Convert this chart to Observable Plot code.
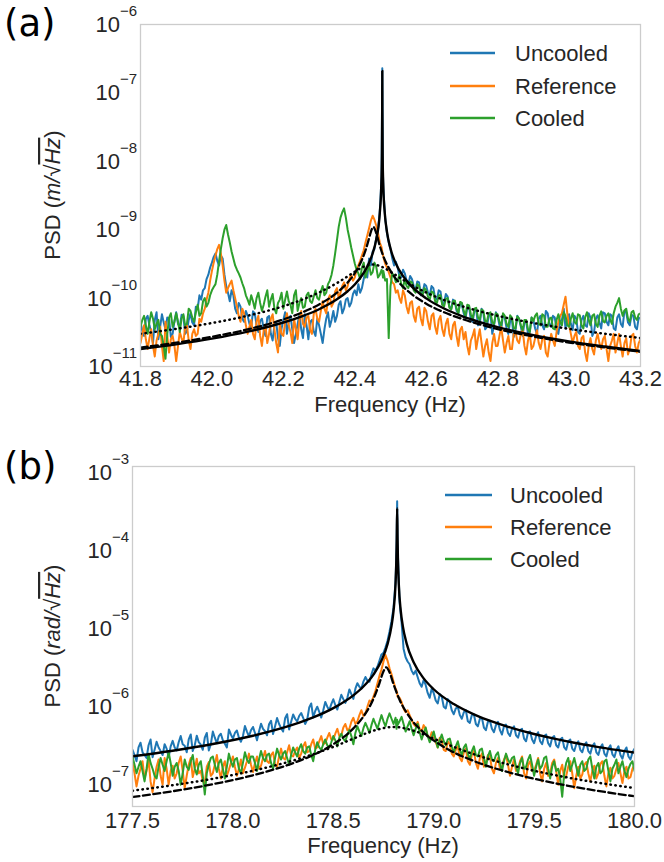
<!DOCTYPE html>
<html><head><meta charset="utf-8">
<script src="https://cdn.jsdelivr.net/npm/d3@7"></script>
<script src="https://cdn.jsdelivr.net/npm/@observablehq/plot@0.6"></script>
<style>
body{margin:0;background:#fff;}
#wrap{width:664px;}
#wrap svg{display:block;}
</style></head><body><div id="wrap"></div>
<script>
// ---------- shared ----------
const names = ["Uncooled", "Reference", "Cooled"];
const colors = ["#1f77b4", "#ff7f0e", "#2ca02c"];
const FONT = "'Liberation Sans', Arial, Helvetica, sans-serif";

// ---------- panel (a): values in pm/sqrt(Hz) (1e-12 m) ----------
const unitA = 1e-12;
const xTicksA = [41.8, 42.0, 42.2, 42.4, 42.6, 42.8, 43.0, 43.2];
const yExpA = [-6, -7, -8, -9, -10, -11];
const freqA = [
41.800,41.805,41.810,41.815,41.820,41.825,41.830,41.835,41.840,41.845,41.850,41.855,41.860,41.865,41.870,41.875,41.880,41.885,41.890,41.895,
41.900,41.905,41.910,41.915,41.920,41.925,41.930,41.935,41.940,41.945,41.950,41.955,41.960,41.965,41.970,41.975,41.980,41.985,41.990,41.995,
42.000,42.005,42.010,42.015,42.020,42.025,42.030,42.035,42.040,42.045,42.050,42.055,42.060,42.065,42.070,42.075,42.080,42.085,42.090,42.095,
42.100,42.105,42.110,42.115,42.120,42.125,42.130,42.135,42.140,42.145,42.150,42.155,42.160,42.165,42.170,42.175,42.180,42.185,42.190,42.195,
42.200,42.205,42.210,42.215,42.220,42.225,42.230,42.235,42.240,42.245,42.250,42.255,42.260,42.265,42.270,42.275,42.280,42.285,42.290,42.295,
42.300,42.305,42.310,42.315,42.320,42.325,42.330,42.335,42.340,42.345,42.350,42.355,42.360,42.365,42.370,42.375,42.380,42.385,42.390,42.395,
42.400,42.405,42.410,42.415,42.420,42.425,42.430,42.435,42.440,42.445,42.450,42.455,42.460,42.465,42.470,42.475,42.477,42.479,42.480,42.485,42.490,42.495,
42.500,42.505,42.510,42.515,42.520,42.525,42.530,42.535,42.540,42.545,42.550,42.555,42.560,42.565,42.570,42.575,42.580,42.585,42.590,42.595,
42.600,42.605,42.610,42.615,42.620,42.625,42.630,42.635,42.640,42.645,42.650,42.655,42.660,42.665,42.670,42.675,42.680,42.685,42.690,42.695,
42.700,42.705,42.710,42.715,42.720,42.725,42.730,42.735,42.740,42.745,42.750,42.755,42.760,42.765,42.770,42.775,42.780,42.785,42.790,42.795,
42.800,42.805,42.810,42.815,42.820,42.825,42.830,42.835,42.840,42.845,42.850,42.855,42.860,42.865,42.870,42.875,42.880,42.885,42.890,42.895,
42.900,42.905,42.910,42.915,42.920,42.925,42.930,42.935,42.940,42.945,42.950,42.955,42.960,42.965,42.970,42.975,42.980,42.985,42.990,42.995,
43.000,43.005,43.010,43.015,43.020,43.025,43.030,43.035,43.040,43.045,43.050,43.055,43.060,43.065,43.070,43.075,43.080,43.085,43.090,43.095,
43.100,43.105,43.110,43.115,43.120,43.125,43.130,43.135,43.140,43.145,43.150,43.155,43.160,43.165,43.170,43.175,43.180,43.185,43.190,43.195,
43.200];
const uncooledA = [
45,33,28,50,55,40,32,22,48,62,25,38,58,44,35,52,50,27,30,46,
62,42,38,57,55,30,33,48,60,44,40,75,70,110,95,130,140,190,220,280,
330,400,450,350,300,420,380,220,150,120,90,130,110,70,60,85,75,50,45,65,
55,42,38,64,60,40,32,46,50,35,28,52,55,30,24,40,45,26,20,36,
48,62,30,44,55,35,22,30,42,58,35,26,58,40,25,45,48,33,28,50,
40,30,22,35,50,62,38,48,65,45,55,80,90,60,70,95,100,75,85,115,
130,110,160,120,140,190,250,200,380,300,480,520,750,1000,1800,6000,230000,6000,4000,1500,900,650,
520,380,300,340,280,210,200,260,230,180,160,210,190,150,130,175,170,110,120,160,
150,120,110,150,140,100,95,130,125,80,85,115,105,75,70,95,90,65,60,85,
80,60,50,72,75,48,45,65,68,40,42,70,62,35,38,55,58,30,40,62,
55,40,35,58,52,36,30,46,48,27,34,55,50,38,28,44,45,30,32,52,
48,36,30,50,55,40,35,65,60,42,38,55,52,34,30,45,48,70,36,50,
58,42,34,55,50,32,30,48,55,40,38,60,52,28,32,50,56,44,36,62,
60,45,40,58,55,36,34,52,58,42,38,65,62,44,40,57,55,38,35,52,
50];
const referenceA = [
22,30,40,25,18,26,35,20,14,24,30,38,20,12,45,28,16,25,28,20,
12,20,32,26,22,38,40,24,18,30,35,28,30,50,45,60,70,95,120,180,
250,330,420,520,600,450,300,180,120,140,160,180,130,100,75,55,45,70,60,40,
30,38,48,30,25,45,55,28,20,34,40,22,30,50,58,35,22,16,42,30,
28,45,60,40,32,22,50,35,25,48,65,42,38,52,55,34,30,58,70,50,
45,65,90,70,60,95,110,75,85,125,140,100,120,150,170,130,150,190,220,180,
200,260,300,350,420,500,650,820,1050,1350,1600,1400,1150,900,650,550,480,430,400,320,280,240,
200,170,160,120,130,100,85,130,110,75,60,85,90,55,45,70,75,50,40,72,
65,45,35,55,60,38,30,48,55,35,28,42,50,30,25,40,45,28,20,34,
38,25,32,20,15,24,28,35,18,26,35,22,14,20,25,16,12,22,30,20,
20,28,38,24,16,22,28,18,18,30,32,24,22,30,35,20,15,24,30,18,
20,26,34,22,18,25,28,16,14,22,30,24,20,32,45,55,60,80,105,60,
40,30,22,28,32,20,18,26,28,16,12,20,26,18,15,24,30,22,18,25,
28,18,12,20,24,30,16,22,30,20,14,22,26,15,18,28,30,20,16,22,
25];
const cooledA = [
38,48,55,40,30,45,62,50,35,42,48,30,28,20,13,30,52,60,38,45,
60,45,32,50,58,40,42,70,65,52,45,62,80,55,60,90,100,75,85,110,
130,145,160,220,350,520,750,1000,1170,850,650,480,380,300,260,230,200,165,140,110,
95,80,110,90,70,100,120,85,65,80,105,130,75,95,115,70,60,85,95,120,
70,95,125,90,80,60,110,130,65,85,100,72,75,110,120,90,85,105,130,100,
95,125,150,110,120,160,180,220,300,450,700,1100,1500,1800,2050,1500,1000,750,550,420,
320,260,230,190,280,330,200,250,310,220,240,330,290,200,220,260,240,200,250,180,190,26,
150,230,210,170,180,220,160,140,190,150,140,175,170,130,120,160,150,115,110,140,
130,105,95,125,120,90,85,110,110,80,75,98,100,72,68,90,92,70,60,88,
85,65,55,80,78,58,50,70,72,52,48,68,65,46,45,60,62,44,42,60,
58,45,40,60,55,42,38,56,52,36,36,54,50,40,34,48,48,35,32,52,
46,55,60,42,40,58,55,38,38,50,52,36,35,48,58,45,40,62,55,40,
38,50,60,45,42,58,56,40,36,52,62,48,40,55,58,42,38,55,64,46,
44,55,60,48,42,60,75,85,100,70,55,66,70,50,45,62,65,52,48,58,
60];
// fits (a)
const solidAF = [41.80,41.90,42.00,42.10,42.20,42.25,42.30,42.35,42.38,42.40,42.42,42.43,42.44,42.45,42.46,42.47,42.474,42.476,42.4768,42.477,42.4772,42.478,42.480,42.484,42.49,42.50,42.52,42.53,42.55,42.60,42.65,42.70,42.75,42.80,42.90,43.00,43.10,43.20];
const solidAV = [18.0,21.1,25.5,32.3,44.0,53.7,68.8,95.9,126,158,214,259,329,451,716,1740,4060,12180,58500,210000,58500,12180,4060,1740,937,530,283,230,167,99,70.4,54.6,44.6,37.7,28.8,23.3,19.6,16.8];
const dashAF = [41.80,41.90,42.00,42.10,42.20,42.25,42.30,42.35,42.38,42.40,42.42,42.43,42.44,42.445,42.452,42.46,42.47,42.48,42.50,42.52,42.55,42.60,42.65,42.70,42.75,42.80,42.90,43.00,43.10,43.20];
const dashAV = [18.9,22.3,27.2,34.9,48.8,60.8,80.7,120,169,231,363,498,750,932,1098,895,580,408,250,178,125,82.9,62.0,49.6,41.3,35.3,27.5,22.4,19.0,16.4];
const dotAF = [41.80,41.90,42.00,42.10,42.20,42.25,42.30,42.35,42.375,42.40,42.425,42.45,42.475,42.50,42.525,42.55,42.60,42.65,42.70,42.80,42.90,43.00,43.10,43.20];
const dotAV = [30.1,35.5,43.2,55.2,76.2,93.7,120.7,166,200,243,288,310,288,243,200,166,120.7,93.7,76.2,55.2,43.2,35.5,30.1,26.1];

// ---------- panel (b): values in nrad/sqrt(Hz) (1e-9 rad) ----------
const unitB = 1e-9;
const xTicksB = [177.5, 178.0, 178.5, 179.0, 179.5, 180.0];
const yExpB = [-3, -4, -5, -6, -7];
const freqB = [
177.50,177.51,177.52,177.53,177.54,177.55,177.56,177.57,177.58,177.59,177.60,177.61,177.62,177.63,177.64,177.65,177.66,177.67,177.68,177.69,
177.70,177.71,177.72,177.73,177.74,177.75,177.76,177.77,177.78,177.79,177.80,177.81,177.82,177.83,177.84,177.85,177.86,177.87,177.88,177.89,
177.90,177.91,177.92,177.93,177.94,177.95,177.96,177.97,177.98,177.99,178.00,178.01,178.02,178.03,178.04,178.05,178.06,178.07,178.08,178.09,
178.10,178.11,178.12,178.13,178.14,178.15,178.16,178.17,178.18,178.19,178.20,178.21,178.22,178.23,178.24,178.25,178.26,178.27,178.28,178.29,
178.30,178.31,178.32,178.33,178.34,178.35,178.36,178.37,178.38,178.39,178.40,178.41,178.42,178.43,178.44,178.45,178.46,178.47,178.48,178.49,
178.50,178.51,178.52,178.53,178.54,178.55,178.56,178.57,178.58,178.59,178.60,178.61,178.62,178.63,178.64,178.65,178.66,178.67,178.68,178.69,
178.70,178.71,178.72,178.73,178.74,178.75,178.76,178.77,178.78,178.79,178.80,178.81,178.815,178.818,178.82,178.83,178.84,178.85,178.86,178.87,178.88,178.89,
178.90,178.91,178.92,178.93,178.94,178.95,178.96,178.97,178.98,178.99,179.00,179.01,179.02,179.03,179.04,179.05,179.06,179.07,179.08,179.09,
179.10,179.11,179.12,179.13,179.14,179.15,179.16,179.17,179.18,179.19,179.20,179.21,179.22,179.23,179.24,179.25,179.26,179.27,179.28,179.29,
179.30,179.31,179.32,179.33,179.34,179.35,179.36,179.37,179.38,179.39,179.40,179.41,179.42,179.43,179.44,179.45,179.46,179.47,179.48,179.49,
179.50,179.51,179.52,179.53,179.54,179.55,179.56,179.57,179.58,179.59,179.60,179.61,179.62,179.63,179.64,179.65,179.66,179.67,179.68,179.69,
179.70,179.71,179.72,179.73,179.74,179.75,179.76,179.77,179.78,179.79,179.80,179.81,179.82,179.83,179.84,179.85,179.86,179.87,179.88,179.89,
179.90,179.91,179.92,179.93,179.94,179.95,179.96,179.97,179.98,179.99,180.00];
const uncooledB = [
280,240,200,300,345,260,240,220,320,380,225,280,355,300,270,240,330,290,225,310,
365,300,275,350,420,330,315,260,380,440,270,320,425,350,325,280,400,460,275,330,
480,400,340,420,450,370,335,300,510,440,390,460,495,400,355,420,565,480,415,500,
550,460,370,480,605,520,485,430,595,660,445,560,715,600,530,480,710,800,510,640,
795,700,645,760,830,720,600,680,975,1100,730,880,1000,860,725,900,1150,1000,900,1080,
1245,1050,920,1150,1420,1250,1120,1300,1660,1450,1260,1700,2000,1800,1710,2100,2400,2150,2090,2600,
3100,2900,3280,3900,4680,4900,5780,7000,9200,12500,18600,40000,110000,430000,120000,22000,12000,5500,4300,3800,3500,2900,
2600,2900,2400,2000,1800,2200,1900,1500,1300,1700,1500,1200,1100,1450,1350,1000,950,1250,1150,900,
800,950,1000,780,700,850,900,650,620,780,800,600,560,700,720,540,500,640,660,520,
470,580,640,500,440,560,590,460,420,520,560,430,400,500,520,390,360,470,480,380,
340,420,470,360,330,420,440,340,310,400,420,320,300,380,400,300,280,360,380,290,
270,330,360,280,260,320,350,270,250,310,340,260,240,300,330,250,230,290,320,245,
225,280,310,240,215,270,300,230,210,260,290];
const referenceB = [
190,140,95,130,160,200,120,150,210,110,80,120,170,210,130,100,220,160,100,150,
175,120,140,190,230,150,90,130,180,220,125,160,215,140,150,110,105,170,195,130,
140,180,240,160,120,170,200,130,155,190,230,170,130,160,210,140,165,200,250,180,
145,190,230,160,175,220,270,200,190,240,260,180,170,230,290,220,210,260,320,240,
230,270,300,220,250,310,350,260,270,330,380,290,300,360,420,330,340,400,460,380,
380,450,520,420,430,540,600,500,520,640,720,600,650,780,900,760,820,1000,1200,1150,
1350,1600,2000,2500,3000,3800,4600,3900,3100,2600,2100,1700,1600,1500,1350,1300,1150,950,850,900,780,680,
600,560,640,520,480,580,520,420,390,470,430,350,300,400,370,280,270,360,330,250,
230,280,310,220,200,260,290,200,180,240,270,190,160,220,250,170,190,240,230,160,
140,190,220,160,170,210,240,180,130,170,210,150,160,200,230,140,120,180,200,150,
150,180,220,140,110,160,190,130,140,190,210,150,100,150,180,120,130,170,200,140,
90,130,170,120,135,180,195,140,110,150,175,120,140,185,200,130,95,140,165,120,
130,160,190,140,105,150,170,120,125,160,180];
const cooledB = [
230,180,140,170,200,150,110,160,250,190,160,130,120,170,220,180,150,200,260,190,
130,170,190,150,100,140,210,170,155,200,240,160,135,180,200,130,75,140,180,220,
230,180,145,190,210,160,120,170,250,200,170,210,220,160,140,190,260,210,190,230,
230,190,150,210,270,220,200,240,250,190,160,220,290,240,210,250,270,220,180,240,
300,260,230,290,330,270,250,300,310,240,200,280,350,300,280,330,380,320,300,350,
420,370,310,400,450,390,360,440,500,420,330,460,560,480,420,530,620,540,460,580,
700,600,520,640,780,650,560,700,820,700,600,720,520,680,580,650,740,600,480,560,650,520,
430,520,600,470,380,460,540,420,350,400,480,380,300,370,440,360,320,380,390,310,
260,310,360,280,240,300,330,250,210,270,310,240,230,280,290,220,170,230,270,210,
200,240,260,190,150,200,250,210,190,220,230,170,140,190,220,160,170,210,240,180,
130,170,210,160,175,220,230,160,120,170,200,150,160,120,70,140,190,220,150,180,
220,170,130,180,200,150,160,210,230,160,120,170,190,140,150,200,210,150,110,160,
180,210,140,170,200,150,125,160,185,200,150];
// fits (b)
const solidBF = [177.50,177.70,177.90,178.10,178.30,178.40,178.50,178.60,178.65,178.70,178.74,178.77,178.79,178.80,178.81,178.814,178.816,178.818,178.820,178.822,178.826,178.836,178.846,178.866,178.90,178.95,179.00,179.10,179.20,179.30,179.40,179.50,179.60,179.70,179.80,179.90,180.00];
const solidBV = [231,272,332,424,588,728,958,1397,1813,2580,3904,6344,10875,16917,38060,76125,139600,350000,139600,76125,38060,16917,10875,6344,3713,2307,1673,1080,797,632,523,446,389,345,310,281,258];
const dashBF = [177.50,177.70,177.90,178.10,178.30,178.40,178.50,178.60,178.65,178.70,178.73,178.75,178.764,178.78,178.80,178.83,178.88,178.95,179.05,179.20,179.40,179.60,179.80,180.00];
const dashBV = [69.4,82.4,101.5,132,189,240,330,527,748,1260,2009,2851,3200,2765,1939,1227,736,466,305,201,138,105,84.7,71.0];
const dotBF = [177.50,177.70,177.90,178.10,178.20,178.30,178.40,178.50,178.60,178.70,178.80,178.90,179.00,179.10,179.20,179.30,179.40,179.50,179.70,179.90,180.00];
const dotBV = [83.6,98.4,119,151,174,204,246,305,389,492,550,492,389,305,246,204,174,151,119,98.4,90.4];

// ---------- helpers ----------
const rows = (freq, vals, unit) => freq.map((f, i) => ({f, v: vals[i] * unit}));

function panel(cfg) {
  const series = [cfg.u, cfg.r, cfg.c];
  const svg = Plot.plot({
    width: 664, height: cfg.height,
    marginLeft: cfg.ml, marginRight: cfg.mr, marginTop: cfg.mt, marginBottom: cfg.mb,
    style: {fontFamily: FONT, fontSize: "22px", color: "#262626", background: "#fff", overflow: "visible"},
    x: {domain: cfg.xdom, ticks: cfg.xticks, tickFormat: d => d.toFixed(1), tickSize: 0, tickPadding: cfg.tp, label: null},
    y: {type: "log", domain: cfg.ydom, axis: null},
    marks: [
      ...series.map((s, i) => Plot.line(rows(cfg.freq, s, cfg.unit), {x: "f", y: "v", stroke: colors[i], strokeWidth: 2.0, clip: true})),
      Plot.line(rows(cfg.sF, cfg.sV, cfg.unit), {x: "f", y: "v", stroke: "#000", strokeWidth: 2.4, curve: "monotone-x", clip: true}),
      Plot.line(rows(cfg.dF, cfg.dV, cfg.unit), {x: "f", y: "v", stroke: "#000", strokeWidth: 2.3, strokeDasharray: "7,3.5", curve: "monotone-x", clip: true}),
      Plot.line(rows(cfg.oF, cfg.oV, cfg.unit), {x: "f", y: "v", stroke: "#000", strokeWidth: 2.5, strokeDasharray: "0.5,4.5", strokeLinecap: "round", curve: "monotone-x", clip: true}),
      Plot.frame({stroke: "#cccccc", strokeWidth: 1.3})
    ]
  });
  const sel = d3.select(svg);
  const sy = svg.scale("y");
  // y tick labels: 10^e
  const gy = sel.append("g").attr("fill", "#262626").attr("font-family", FONT).attr("font-size", 22).attr("text-anchor", "end");
  for (const e of cfg.yexp) {
    const y = sy.apply(Math.pow(10, e));
    const t = gy.append("text").attr("x", cfg.ml - 3).attr("y", y + 8);
    t.append("tspan").text("10");
    t.append("tspan").attr("dy", -16).attr("font-size", 15).text("\u2212" + Math.abs(e));
  }
  // y axis label
  const cy = cfg.mt + (cfg.height - cfg.mt - cfg.mb) / 2;
  const yl = sel.append("text").attr("transform", `translate(60,${cy}) rotate(-90)`)
    .attr("text-anchor", "middle").attr("font-family", FONT).attr("font-size", 22).attr("fill", "#262626");
  yl.append("tspan").text("PSD (");
  yl.append("tspan").attr("font-style", "italic").text(cfg.unitLabel + "/\u221A");
  yl.append("tspan").attr("font-style", "italic").attr("text-decoration", "overline").text("Hz");
  yl.append("tspan").text(")");
  // x axis label
  const cx = cfg.ml + (664 - cfg.ml - cfg.mr) / 2;
  sel.append("text").attr("x", cx).attr("y", cfg.xlabY).attr("text-anchor", "middle")
    .attr("font-family", FONT).attr("font-size", 22).attr("fill", "#262626").text("Frequency (Hz)");
  // panel letter
  sel.append("text").attr("x", 4).attr("y", cfg.letterY).attr("text-anchor", "start")
    .attr("font-family", "'DejaVu Sans', sans-serif")
    .attr("font-size", 37).attr("fill", "#000").text(cfg.letter);
  // legend
  const gl = sel.append("g").attr("font-family", FONT).attr("font-size", 22).attr("fill", "#262626").attr("text-anchor", "start");
  names.forEach((n, i) => {
    const y = cfg.legY[i];
    gl.append("line").attr("x1", cfg.legX[0]).attr("x2", cfg.legX[1]).attr("y1", y).attr("y2", y)
      .attr("stroke", colors[i]).attr("stroke-width", 2.5);
    gl.append("text").attr("x", cfg.legX[2]).attr("y", y + 8).text(n);
  });
  return svg;
}

const wrap = document.getElementById("wrap");
wrap.appendChild(panel({
  height: 420, ml: 140, mr: 24, mt: 24, mb: 54, tp: 4,
  xdom: [41.8, 43.2], xticks: xTicksA, ydom: [1e-11, 1e-6], yexp: yExpA,
  freq: freqA, u: uncooledA, r: referenceA, c: cooledA, unit: unitA,
  sF: solidAF, sV: solidAV, dF: dashAF, dV: dashAV, oF: dotAF, oV: dotAV,
  unitLabel: "m", xlabY: 412, letter: "(a)", letterY: 36,
  legX: [450, 495, 515], legY: [53, 86, 118]
}));
wrap.appendChild(panel({
  height: 442, ml: 132, mr: 30, mt: 46, mb: 56, tp: 6,
  xdom: [177.5, 180.0], xticks: xTicksB, ydom: [Math.pow(10, -7.28), Math.pow(10, -2.92)], yexp: yExpB,
  freq: freqB, u: uncooledB, r: referenceB, c: cooledB, unit: unitB,
  sF: solidBF, sV: solidBV, dF: dashBF, dV: dashBV, oF: dotBF, oV: dotBV,
  unitLabel: "rad", xlabY: 433, letter: "(b)", letterY: 59,
  legX: [445, 492, 510], legY: [75, 107, 139]
}));
</script></body></html>
